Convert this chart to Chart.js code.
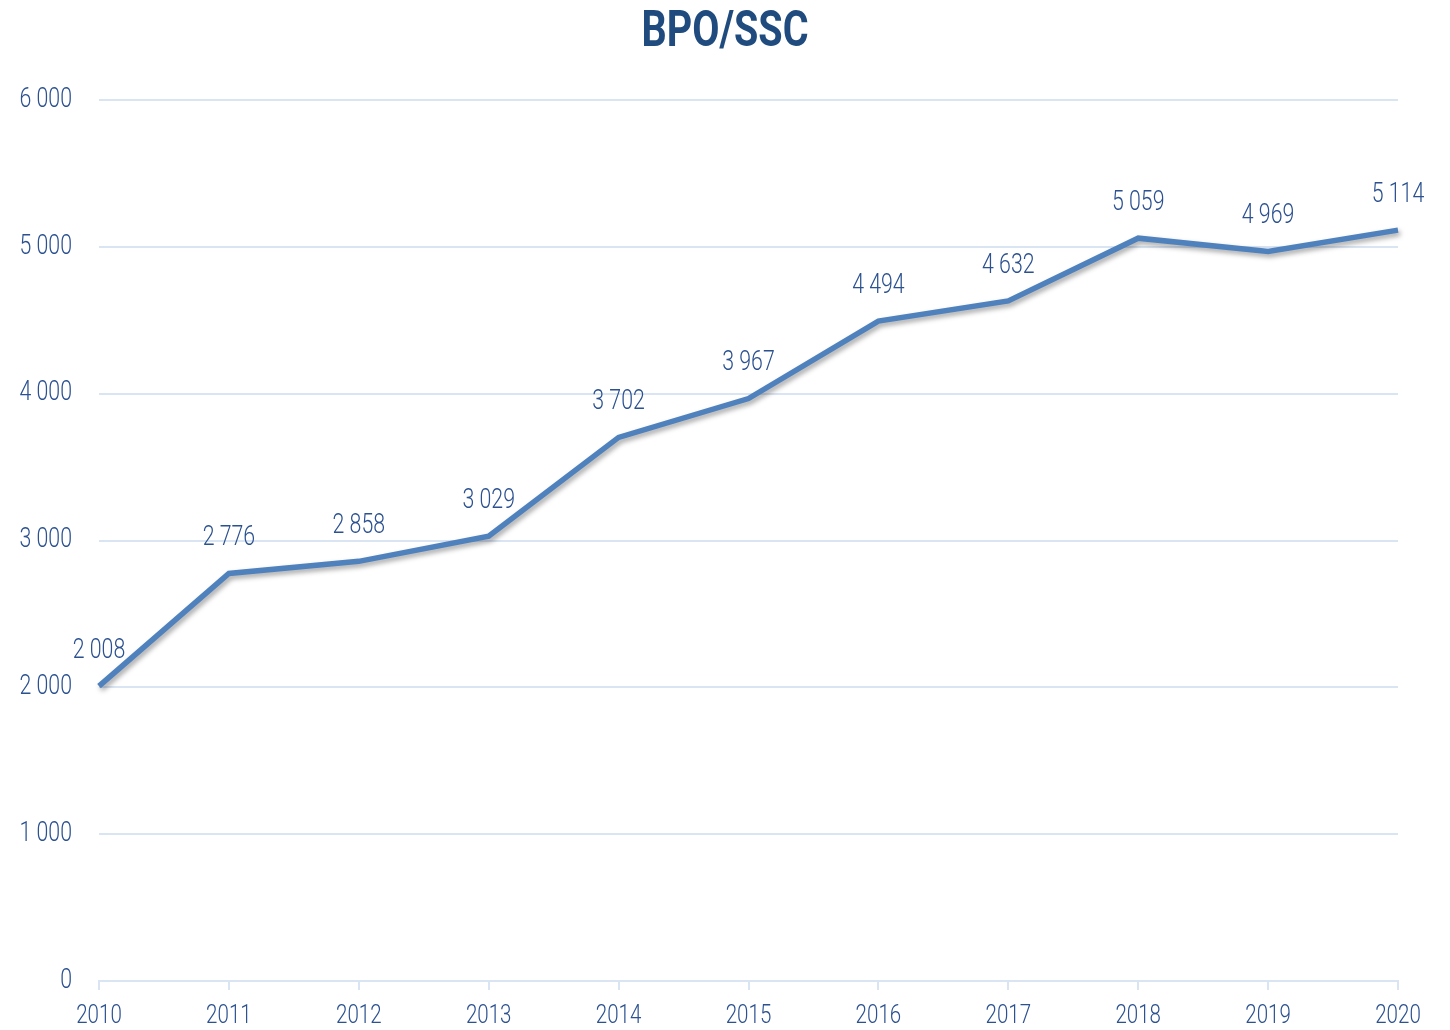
<!DOCTYPE html>
<html lang="en">
<head>
  <meta charset="UTF-8" />
  <title>BPO/SSC</title>
  <script src="https://cdn.jsdelivr.net/npm/chart.js"></script>
  <style>
    body { margin: 0; background: #fff; }
    #wrap { width: 1450px; height: 1030px; }
  </style>
</head>
<body>
  <div id="wrap"><canvas id="chart" width="1450" height="1030"></canvas></div>
  <script>
    const years = ['2010', '2011', '2012', '2013', '2014', '2015', '2016', '2017', '2018', '2019', '2020'];
    const employees = [2008, 2776, 2858, 3029, 3702, 3967, 4494, 4632, 5059, 4969, 5114];
    const yTicks = [0, 1000, 2000, 3000, 4000, 5000, 6000];
    const chartTitle = 'BPO/SSC';

    const FONT = 'Roboto, "DejaVu Sans", sans-serif';
    const TEXT = '#2b5190';
    const GRID = '#dae5f3';
    const NARROW = 0.79; // the original font is a condensed one

    function fmt(v) {
      return String(v).replace(/\B(?=(\d{3})+(?!\d))/g, ' ');
    }

    // draw text squeezed horizontally
    function narrowText(c, txt, x, y, align, font, color) {
      c.save();
      c.font = font;
      c.fillStyle = color;
      c.textBaseline = 'middle';
      c.textAlign = align;
      c.translate(x, y);
      c.scale(NARROW, 1);
      c.fillText(txt, 0, 0);
      c.restore();
    }

    // shadow under the line
    const shadow = {
      id: 'shadow',
      beforeDatasetDraw(chart) {
        const c = chart.ctx;
        c.save();
        c.shadowColor = 'rgba(0,0,0,0.35)';
        c.shadowBlur = 5;
        c.shadowOffsetX = 2;
        c.shadowOffsetY = 3;
      },
      afterDatasetDraw(chart) {
        chart.ctx.restore();
      }
    };

    // title, axis labels and value labels
    const texts = {
      id: 'texts',
      afterDraw(chart) {
        const c = chart.ctx;
        const xs = chart.scales.x, ys = chart.scales.y;
        narrowText(c, chartTitle, chart.width / 2, 33, 'center', 'bold 50px ' + FONT, '#1f4b7e');
        yTicks.forEach(v => {
          narrowText(c, fmt(v), 72, ys.getPixelForValue(v), 'right', '300 27px ' + FONT, TEXT);
        });
        years.forEach((y, i) => {
          narrowText(c, y, xs.getPixelForValue(i), 1016, 'center', '300 26px ' + FONT, TEXT);
        });
        const meta = chart.getDatasetMeta(0);
        meta.data.forEach((pt, i) => {
          narrowText(c, fmt(employees[i]), pt.x, pt.y - 35, 'center', '300 27px ' + FONT, TEXT);
        });
      }
    };

    new Chart(document.getElementById('chart'), {
      type: 'line',
      data: {
        labels: years,
        datasets: [{
          data: employees,
          borderColor: '#4f81bd',
          borderWidth: 5.5,
          pointRadius: 0,
          tension: 0,
          clip: false
        }]
      },
      options: {
        responsive: false,
        animation: false,
        layout: { padding: { left: 0, right: 52, top: 100, bottom: 0 } },
        plugins: {
          legend: { display: false },
          tooltip: { enabled: false },
          title: { display: false }
        },
        scales: {
          x: {
            offset: false,
            grid: { drawOnChartArea: false, color: GRID, lineWidth: 2, tickLength: 9 },
            border: { color: GRID, width: 2 },
            ticks: { display: false },
            afterFit(s) { s.height = 49; }
          },
          y: {
            min: 0,
            max: 6000,
            afterBuildTicks(s) { s.ticks = yTicks.map(v => ({ value: v })); },
            grid: { color: GRID, lineWidth: 2, drawTicks: false },
            border: { display: false },
            ticks: { display: false },
            afterFit(s) { s.width = 99; }
          }
        }
      },
      plugins: [shadow, texts]
    });
  </script>
</body>
</html>
